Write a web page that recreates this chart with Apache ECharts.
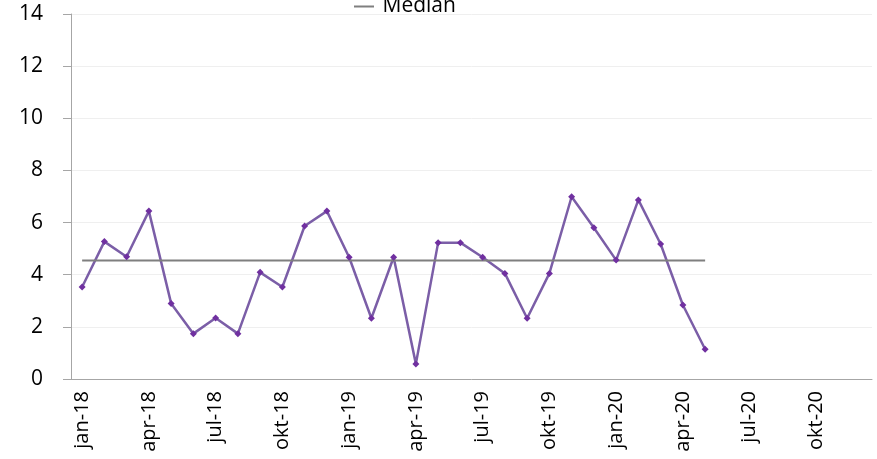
<!DOCTYPE html>
<html><head><meta charset="utf-8">
<script src="https://cdn.jsdelivr.net/npm/echarts@6/dist/echarts.min.js"></script>
<style>html,body{margin:0;padding:0;background:#fff}#c{width:877px;height:459px}</style>
</head><body><div id="c"></div>
<script>
const monthNames = ['jan','feb','mar','apr','maj','jun','jul','aug','sep','okt','nov','dec'];
const years = ['18','19','20'];
const categories = [];
years.forEach(y => monthNames.forEach(m => categories.push(m + '-' + y)));
const values = [3.53, 5.27, 4.69, 6.44, 2.90, 1.74, 2.34, 1.74, 4.09, 3.53, 5.87, 6.44,
                4.67, 2.33, 4.67, 0.58, 5.23, 5.23, 4.67, 4.05, 2.33, 4.05, 6.99, 5.80,
                4.56, 6.87, 5.18, 2.84, 1.14];
const medianValue = 4.55;
const medianLine = values.map(() => medianValue);
const yTicks = [0, 2, 4, 6, 8, 10, 12, 14];

const chart = echarts.init(document.getElementById('c'));
const font = 'Open Sans';
chart.setOption({
  animation: false,
  textStyle: {fontFamily: font},
  legend: {
    data: [{name: 'Median', icon: 'path://M0,0 L10,0 L10,1 L0,1 Z'}],
    top: -9, left: 349, itemWidth: 29, itemHeight: 2, itemGap: 4,
    textStyle: {fontSize: 21, color: '#000', fontFamily: font, padding: [0, 0, 0, -1]}
  },
  grid: {left: 71, right: 5, top: 14, bottom: 80},
  xAxis: {
    type: 'category', data: categories, boundaryGap: true,
    axisLine: {lineStyle: {color: '#a6a6a6', width: 1}},
    axisTick: {interval: 2, length: 6, lineStyle: {color: '#a6a6a6'}},
    axisLabel: {interval: 2, rotate: 90, fontSize: 20, color: '#000', margin: 12, fontFamily: font}
  },
  yAxis: {
    type: 'value', min: yTicks[0], max: yTicks[yTicks.length - 1], interval: 2,
    axisLine: {show: true, lineStyle: {color: '#a6a6a6'}},
    axisTick: {show: true, inside: false, length: 8, lineStyle: {color: '#a6a6a6'}},
    axisLabel: {fontSize: 21, color: '#000', margin: 28, fontFamily: font},
    splitLine: {lineStyle: {color: '#efefef', width: 1}}
  },
  series: [
    {
      name: 'Værdi', type: 'line', data: values,
      symbol: 'diamond', symbolSize: 7,
      lineStyle: {color: '#7b5ea7', width: 2.5},
      itemStyle: {color: '#7030a0'}
    },
    {
      name: 'Median', type: 'line', data: medianLine,
      symbol: 'none', lineStyle: {color: '#7f7f7f', width: 2},
      itemStyle: {color: '#7f7f7f'}
    }
  ]
});
</script></body></html>
